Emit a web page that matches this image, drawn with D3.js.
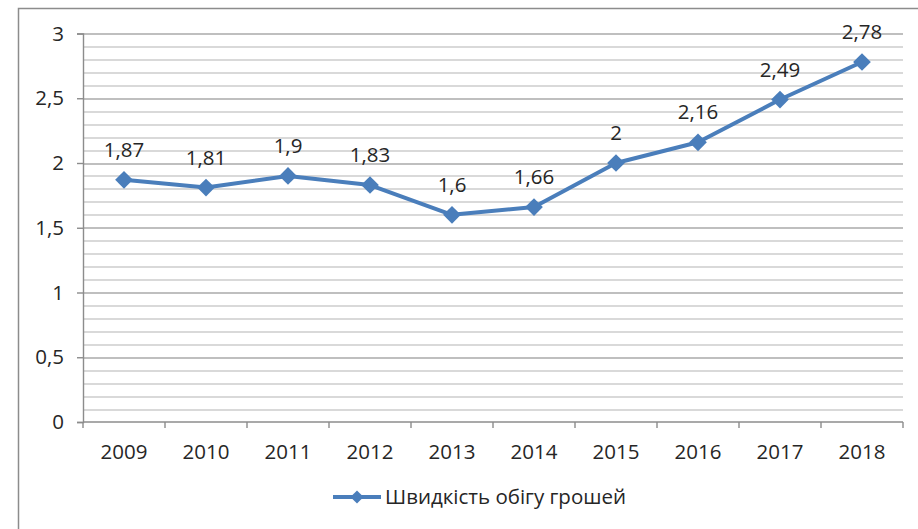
<!DOCTYPE html>
<html>
<head>
<meta charset="utf-8">
<script src="https://cdn.jsdelivr.net/npm/d3@7"></script>
<style>
  body { margin: 0; background: #fff; }
  svg text { font-family: "Open Sans", "Noto Sans", sans-serif; fill: #262626; }
</style>
</head>
<body>
<svg id="chart"></svg>
<script>
const years = ['2009', '2010', '2011', '2012', '2013', '2014', '2015', '2016', '2017', '2018']
const values = [1.87, 1.81, 1.9, 1.83, 1.6, 1.66, 2, 2.16, 2.49, 2.78]
const yTickValues = [0, 0.5, 1, 1.5, 2, 2.5, 3]
const seriesName = 'Швидкість обігу грошей'

const width = 918
const height = 529
const margin = { top: 33.5, right: 15, bottom: 107, left: 83 }
const w = width - margin.left - margin.right
const h = height - margin.top - margin.bottom
const blue = '#4a7ebb'
const fontSize = 20.5
const fmt = v => String(v).replace('.', ',')

const svg = d3.select('#chart')
  .attr('width', width)
  .attr('height', height)

// frame (only top and left are visible in the picture)
svg.append('path')
  .attr('d', `M18.5,${height} V8.5 H${width}`)
  .attr('fill', 'none')
  .attr('stroke', '#8c8c8c')
  .attr('stroke-width', 1.5)

const chart = svg.append('g')
  .attr('transform', `translate(${margin.left}, ${margin.top})`)

const x = d3.scaleBand().domain(years).range([0, w])
const y = d3.scaleLinear().domain([0, 3]).range([h, 0])

// minor gridlines every 0.1
const minor = d3.range(1, 31).map(d => d / 10)
chart.append('g')
  .selectAll('line')
  .data(minor)
  .enter()
  .append('line')
  .attr('x1', 0)
  .attr('x2', w)
  .attr('y1', d => Math.round(y(d)) + 0.5)
  .attr('y2', d => Math.round(y(d)) + 0.5)
  .attr('stroke', d => Math.round(d * 10) % 5 === 0 ? '#aaaaaa' : '#cccccc')
  .attr('stroke-width', 1.4)

// y axis
const yAxis = d3.axisLeft(y)
  .tickValues(yTickValues)
  .tickSize(6)
  .tickPadding(13)
  .tickFormat(fmt)

chart.append('g')
  .attr('class', 'y axis')
  .call(yAxis)
  .call(g => g.select('.domain').attr('stroke', '#8c8c8c').attr('stroke-width', 1.4))
  .call(g => g.selectAll('.tick line').attr('stroke', '#8c8c8c').attr('stroke-width', 1.4))
  .call(g => g.selectAll('.tick text').attr('font-size', fontSize).style('fill', '#262626'))

// x axis with ticks between categories
const xAxisG = chart.append('g')
  .attr('class', 'x axis')
  .attr('transform', `translate(0, ${h})`)

xAxisG.append('line')
  .attr('x1', 0).attr('x2', w)
  .attr('stroke', '#8c8c8c').attr('stroke-width', 1.4)

xAxisG.selectAll('.xtick')
  .data(years.concat(['end']))
  .enter()
  .append('line')
  .attr('class', 'xtick')
  .attr('x1', d => d === 'end' ? w : x(d))
  .attr('x2', d => d === 'end' ? w : x(d))
  .attr('y1', 0).attr('y2', 6)
  .attr('stroke', '#8c8c8c').attr('stroke-width', 1.4)

xAxisG.selectAll('.xlabel')
  .data(years)
  .enter()
  .append('text')
  .attr('class', 'xlabel')
  .attr('x', d => x(d) + x.bandwidth() / 2)
  .attr('y', 37)
  .attr('text-anchor', 'middle')
  .attr('font-size', fontSize)
  .text(d => d)

// line
const data = years.map((d, i) => ({ year: d, value: values[i] }))
const line = d3.line()
  .x(d => x(d.year) + x.bandwidth() / 2)
  .y(d => y(d.value))

chart.append('path')
  .attr('d', line(data))
  .attr('fill', 'none')
  .attr('stroke', blue)
  .attr('stroke-width', 4)
  .attr('stroke-linejoin', 'round')

const diamond = d3.symbol().type(d3.symbolDiamond2).size(200)

chart.selectAll('.dot')
  .data(data)
  .enter()
  .append('path')
  .attr('class', 'dot')
  .attr('d', diamond)
  .attr('transform', d => `translate(${x(d.year) + x.bandwidth() / 2}, ${y(d.value)})`)
  .attr('fill', blue)

// data labels
chart.selectAll('.label')
  .data(data)
  .enter()
  .append('text')
  .attr('class', 'label')
  .attr('x', d => x(d.year) + x.bandwidth() / 2)
  .attr('y', d => y(d.value) - 23)
  .attr('text-anchor', 'middle')
  .attr('font-size', fontSize)
  .text(d => fmt(d.value))

// legend
const legend = svg.append('g')
  .attr('transform', 'translate(333, 497)')

legend.append('line')
  .attr('x1', 0).attr('x2', 48)
  .attr('stroke', blue).attr('stroke-width', 4)

legend.append('path')
  .attr('d', d3.symbol().type(d3.symbolDiamond2).size(110))
  .attr('transform', 'translate(24, 0)')
  .attr('fill', blue)

legend.append('text')
  .attr('x', 52)
  .attr('y', 7)
  .attr('font-size', fontSize)
  .text(seriesName)
</script>
</body>
</html>
